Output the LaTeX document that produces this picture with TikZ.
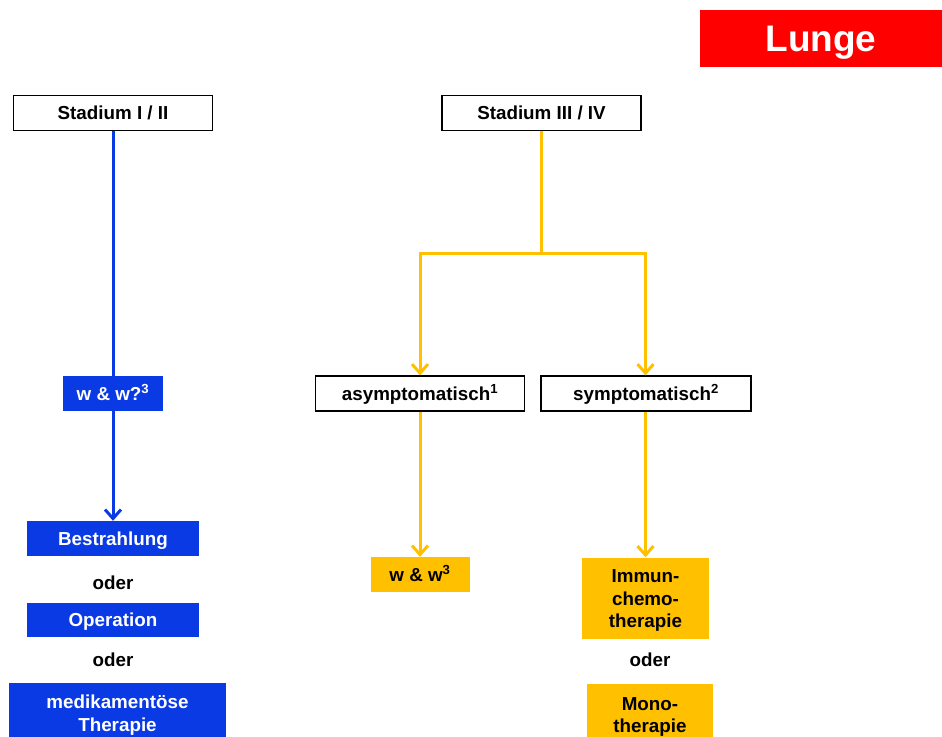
\documentclass[tikz,border=0pt]{standalone}
\usepackage{fontspec}
\setmainfont{Liberation Sans}
\usetikzlibrary{arrows.meta}
\definecolor{cblue}{RGB}{10,58,228}
\definecolor{cyel}{RGB}{255,192,0}
\definecolor{cred}{RGB}{255,0,0}
\tikzset{
  base/.style={rectangle, inner sep=0pt, align=center, font=\fontsize{18.8}{22.5}\selectfont\bfseries},
  one/.style={text height=13.5pt, text depth=0pt},
  wbox/.style={base, one, draw=black, line width=1.2pt, fill=white},
  bbox/.style={base, one, fill=cblue, text=white},
  ybox/.style={base, one, fill=cyel, text=black},
  panel/.style={rectangle, inner sep=0pt},
  txt/.style={base},
  bline/.style={draw=cblue, line width=3pt},
  yline/.style={draw=cyel, line width=3pt},
  tip/.style={-{Straight Barb[length=9pt,width=16pt,line width=3pt]}}
}
\begin{document}
\begin{tikzpicture}[x=1pt,y=-1pt]
\useasboundingbox (0,0) rectangle (942,736);
% title
\node[base, text height=26.5pt, text depth=0pt, fill=cred, text=white, minimum width=242pt, minimum height=57pt, font=\fontsize{37}{40}\selectfont\bfseries] (lunge) at (821,38.5) {Lunge};
% left branch
\node[wbox, minimum width=199pt, minimum height=35pt] (s12) at (113,113) {Stadium I / II};
\node[bbox, minimum width=100pt, minimum height=35pt] (ww1) at (113,393.5) {w \& w?\textsuperscript{3}};
\node[bbox, minimum width=172pt, minimum height=35pt] (bestr) at (113,538.5) {Bestrahlung};
\node[txt, one] (oder1) at (113,583) {oder};
\node[bbox, minimum width=172pt, minimum height=34pt] (oper) at (113,620) {Operation};
\node[txt, one] (oder2) at (113,660) {oder};
\node[panel, fill=cblue, minimum width=217pt, minimum height=66pt, anchor=north] (medi) at (117.5,683) {};
\node[txt, text=white] (meditxt) at (117.5,715) {medikamentöse\\Therapie};
% right branch
\node[wbox, minimum width=199pt, minimum height=35pt] (s34) at (541.5,113) {Stadium III / IV};
\coordinate (split) at (541.5,253);
\node[wbox, minimum width=209pt, minimum height=35pt] (asym) at (420,393.5) {asymptomatisch\textsuperscript{1}};
\node[wbox, minimum width=210pt, minimum height=35pt] (symp) at (646,393.5) {symptomatisch\textsuperscript{2}};
\node[ybox, minimum width=99pt, minimum height=35pt] (ww3) at (420,574.5) {w \& w\textsuperscript{3}};
\node[panel, fill=cyel, minimum width=127pt, minimum height=81pt] (immun) at (645.5,598) {};
\node[txt] (immuntxt) at (645.5,600.5) {Immun-\\chemo-\\therapie};
\node[txt, one] (oder3) at (650,660) {oder};
\node[panel, fill=cyel, minimum width=126pt, minimum height=66pt, anchor=north] (mono) at (650,684) {};
\node[txt] (monotxt) at (650,717) {Mono-\\therapie};
% connectors
\draw[bline] (s12) -- (ww1);
\draw[bline, tip] (ww1) -- (bestr);
\draw[yline] (s34) -- (split);
\draw[yline, tip] (split) -| (asym);
\draw[yline, tip] (split) -| (symp.north -| immun.north);
\draw[yline, tip] (asym) -- (ww3);
\draw[yline, tip] (symp.south -| immun.north) -- (immun);
% redraw node above line
\node[bbox, minimum width=100pt, minimum height=35pt] at (ww1) {w \& w?\textsuperscript{3}};
\end{tikzpicture}
\end{document}
